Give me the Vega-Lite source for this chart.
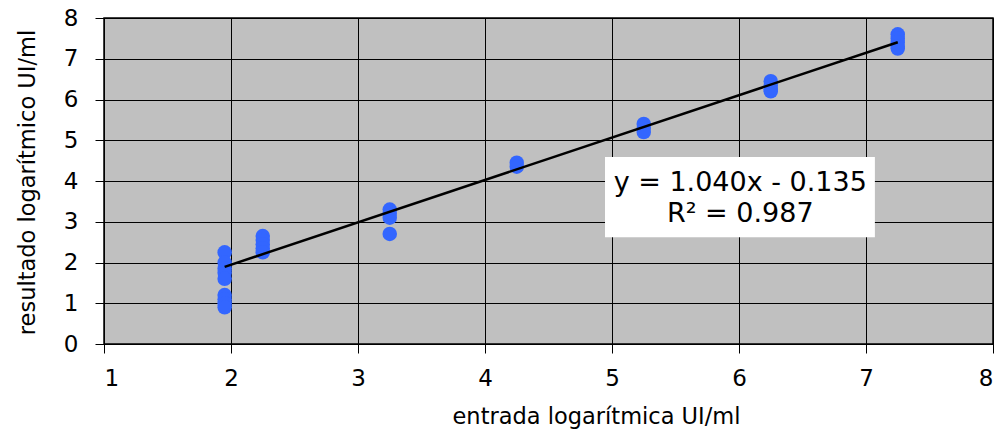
{
  "$schema": "https://vega.github.io/schema/vega-lite/v6.json",
  "width": 889,
  "height": 326,
  "autosize": {"type": "none"},
  "padding": {"left": 104, "top": 18, "right": 11, "bottom": 91},
  "background": "white",
  "config": {
    "font": "DejaVu Sans",
    "view": {"fill": "#c0c0c0", "stroke": "black", "strokeWidth": 1.5},
    "axis": {
      "gridColor": "black", "gridOpacity": 1, "gridWidth": 1,
      "domainColor": "black", "tickColor": "black", "tickSize": 9,
      "labelFont": "DejaVu Sans", "labelFontSize": 23, "labelColor": "black",
      "titleFont": "DejaVu Sans", "titleFontSize": 22.5, "titleFontWeight": "normal", "titleColor": "black"
    }
  },
  "datasets": {
    "points": [
      {"entrada": 1.95, "resultado": 2.25}, {"entrada": 1.95, "resultado": 2.0}, {"entrada": 1.95, "resultado": 1.85},
      {"entrada": 1.95, "resultado": 1.75}, {"entrada": 1.95, "resultado": 1.6}, {"entrada": 1.95, "resultado": 1.2},
      {"entrada": 1.95, "resultado": 1.1}, {"entrada": 1.95, "resultado": 1.0}, {"entrada": 1.95, "resultado": 0.9},
      {"entrada": 2.25, "resultado": 2.65}, {"entrada": 2.25, "resultado": 2.55}, {"entrada": 2.25, "resultado": 2.45},
      {"entrada": 2.25, "resultado": 2.35}, {"entrada": 2.25, "resultado": 2.25},
      {"entrada": 3.25, "resultado": 3.3}, {"entrada": 3.25, "resultado": 3.2}, {"entrada": 3.25, "resultado": 3.1},
      {"entrada": 3.25, "resultado": 2.7},
      {"entrada": 4.25, "resultado": 4.45}, {"entrada": 4.25, "resultado": 4.35},
      {"entrada": 5.25, "resultado": 5.4}, {"entrada": 5.25, "resultado": 5.3}, {"entrada": 5.25, "resultado": 5.2},
      {"entrada": 6.25, "resultado": 6.45}, {"entrada": 6.25, "resultado": 6.35}, {"entrada": 6.25, "resultado": 6.25},
      {"entrada": 6.25, "resultado": 6.2},
      {"entrada": 7.25, "resultado": 7.6}, {"entrada": 7.25, "resultado": 7.5}, {"entrada": 7.25, "resultado": 7.4},
      {"entrada": 7.25, "resultado": 7.3}, {"entrada": 7.25, "resultado": 7.25}
    ],
    "trend": [
      {"entrada": 1.95, "resultado": 1.893},
      {"entrada": 7.25, "resultado": 7.405}
    ],
    "box": [
      {"x1": 4.945, "x2": 7.07, "y1": 4.59, "y2": 2.62}
    ],
    "labels": [
      {"x": 6.01, "y": 3.95, "text": "y = 1.040x - 0.135"},
      {"x": 6.01, "y": 3.19, "text": "R² = 0.987"}
    ]
  },
  "layer": [
    {
      "data": {"name": "points"},
      "mark": {"type": "circle", "size": 210, "color": "#3366ff", "opacity": 1},
      "encoding": {
        "x": {
          "field": "entrada", "type": "quantitative",
          "scale": {"domain": [1, 8], "nice": false, "zero": false},
          "axis": {
            "title": "entrada logarítmica UI/ml", "values": [1, 2, 3, 4, 5, 6, 7, 8], "format": "d",
            "labelPadding": 14, "titleX": 492, "titleY": 72, "titleBaseline": "middle", "titleAlign": "center"
          }
        },
        "y": {
          "field": "resultado", "type": "quantitative",
          "scale": {"domain": [0, 8], "nice": false},
          "axis": {
            "title": "resultado logarítmico UI/ml", "values": [0, 1, 2, 3, 4, 5, 6, 7, 8], "format": "d",
            "labelPadding": 17, "titleX": -77, "titleY": 164, "titleAngle": -90,
            "titleBaseline": "middle", "titleAlign": "center"
          }
        }
      }
    },
    {
      "data": {"name": "trend"},
      "mark": {"type": "line", "color": "black", "strokeWidth": 2.5},
      "encoding": {
        "x": {"field": "entrada", "type": "quantitative"},
        "y": {"field": "resultado", "type": "quantitative"}
      }
    },
    {
      "data": {"name": "box"},
      "mark": {"type": "rect", "fill": "white", "stroke": null},
      "encoding": {
        "x": {"field": "x1", "type": "quantitative"},
        "x2": {"field": "x2"},
        "y": {"field": "y1", "type": "quantitative"},
        "y2": {"field": "y2"}
      }
    },
    {
      "data": {"name": "labels"},
      "mark": {"type": "text", "font": "DejaVu Sans", "fontSize": 27, "color": "black", "align": "center", "baseline": "middle"},
      "encoding": {
        "x": {"field": "x", "type": "quantitative"},
        "y": {"field": "y", "type": "quantitative"},
        "text": {"field": "text"}
      }
    }
  ]
}
